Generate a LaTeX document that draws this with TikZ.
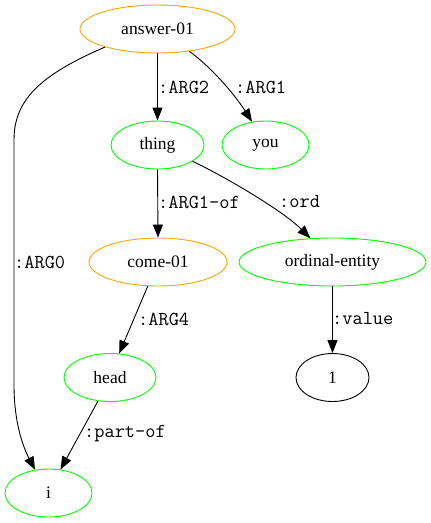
\documentclass[tikz,border=0pt]{standalone}
\usepackage{fontspec}
\setmainfont{Liberation Serif}
\usetikzlibrary{shapes.geometric,arrows.meta}
\definecolor{amrorange}{RGB}{255,165,0}
\definecolor{amrgreen}{RGB}{0,255,0}
\begin{document}
\begin{tikzpicture}[x=1pt,y=-1pt,
        concept/.style={ellipse,draw,line width=0.9pt,inner sep=0pt,minimum height=48pt,font=\fontsize{17.5}{20}\selectfont},
        rel/.style={line width=0.9pt,-{Triangle[length=13pt,width=10pt]}},
        lbl/.style={anchor=west,inner sep=0pt,font=\ttfamily\fontsize{19.8}{22}\selectfont}]
        \useasboundingbox (0,0) rectangle (431,523);
        \node[concept,draw=amrorange,minimum width=155pt] (ans) at (157.5,29) {answer-01};
        \node[concept,draw=amrgreen,minimum width=93pt] (thing) at (157.5,145) {thing};
        \node[concept,draw=amrgreen,minimum width=87pt] (you) at (265.5,145) {you};
        \node[concept,draw=amrorange,minimum width=138pt] (come) at (158,262) {come-01};
        \node[concept,draw=amrgreen,minimum width=187pt] (ord) at (332.5,262) {ordinal-entity};
        \node[concept,draw=amrgreen,minimum width=92pt] (head) at (110,377.5) {head};
        \node[concept,draw=black,minimum width=73pt] (one) at (332.5,377.5) {1};
        \node[concept,draw=amrgreen,minimum width=87pt] (i) at (48.5,493) {i};
        \draw[rel] (ans.south) -- (thing.north);
        \draw[rel] (ans.-35) .. controls +(22,16) and +(-18,-28) .. (you.120);
        \draw[rel] (ans.199) .. controls (40,75) and (14,100) .. (14,140) -- (14,385) .. controls (14,420) and (22,445) .. (i.120);
        \draw[rel] (thing.south) -- (come.north);
        \draw[rel] (thing.-25) .. controls +(30,14) and +(-28,-28) .. (ord.133);
        \draw[rel] (come.-113) -- (head.69);
        \draw[rel] (ord.south) -- (one.north);
        \draw[rel] (head.-117) -- (i.63);
        \node[lbl] (lArgTwo) at (158,87) {:ARG2};
        \node[lbl] (lArgOne) at (235,87) {:ARG1};
        \node[lbl] (lArgZero) at (14,262) {:ARG0};
        \node[lbl] (lArgOneOf) at (158,202) {:ARG1-of};
        \node[lbl] (lOrd) at (279,202) {:ord};
        \node[lbl] (lArgFour) at (138,319) {:ARG4};
        \node[lbl] (lValue) at (332,319) {:value};
        \node[lbl] (lPartOf) at (84,434) {:part-of};
\end{tikzpicture}
\end{document}
